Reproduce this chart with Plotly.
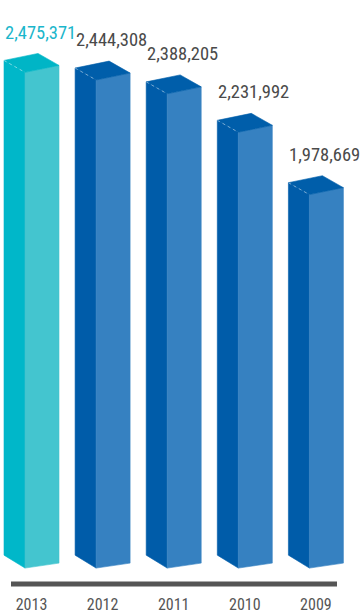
import plotly.graph_objects as go

# ---- data ----
years = ["2013", "2012", "2011", "2010", "2009"]
values = [2475371, 2444308, 2388205, 2231992, 1978669]
highlight = [True, False, False, False, False]

# ---- style ----
W, H = 361, 614
MB = 27                      # bottom margin (axis line position)
PH = H - MB                  # plot height in px
SX = 71.1                    # px per category
X0 = 31.5                    # px of first category centre
SY = 4042.0                  # value units per px
BASE = 465400                # axis value at bar bottom
BASE_PX = 29                 # px of bar bottom above plot bottom

FONT = "Roboto Condensed, Liberation Sans Narrow, DejaVu Sans Condensed, Roboto, sans-serif"

col_left = {True: "#00b7c9", False: "#005ca9"}
col_top = {True: "#00b5c6", False: "#005eaa"}
col_right = {True: "#44c5cf", False: "#3681c1"}
col_label = {True: "#1ab6cb", False: "#4a4a4a"}

xr = [-X0 / SX, (W - X0) / SX]
yr = [BASE - BASE_PX * SY, BASE + (PH - BASE_PX) * SY]

fig = go.Figure()


def poly(xs, ys, color):
    fig.add_trace(go.Scatter(
        x=xs + [xs[0]], y=ys + [ys[0]], mode="lines", fill="toself",
        fillcolor=color, line=dict(color=color, width=0.6),
        hoverinfo="skip", showlegend=False))


annotations = []
for i, (yr_lbl, v, hl) in enumerate(zip(years, values, highlight)):
    L = i - 27.5 / SX
    F = L + 21 / SX
    R = L + 55 / SX
    Bk = L + 34 / SX
    b = BASE
    d = SY
    # left face
    poly([L, L, F, F], [b, v, v - 12 * d, b - 13 * d], col_left[hl])
    # right face
    poly([F, F, R, R], [b - 13 * d, v - 12 * d, v - 5 * d, b - 8 * d], col_right[hl])
    # top face
    poly([L, Bk, R, F], [v, v + 7 * d, v - 5 * d, v - 12 * d], col_top[hl])
    # light dashed edge on top
    fig.add_trace(go.Scatter(
        x=[L, F], y=[v, v - 12 * d], mode="lines",
        line=dict(color="rgba(255,255,255,0.45)", width=1, dash="dot"),
        hoverinfo="skip", showlegend=False))
    annotations.append(dict(
        x=L - 1.5 / SX, y=v + 28 * d, xref="x", yref="y",
        text=f"{v:,}", showarrow=False, xanchor="left", yanchor="middle",
        font=dict(family=FONT, size=18.5, color=col_label[hl])))

fig.update_layout(
    width=W, height=H,
    margin=dict(l=0, r=0, t=0, b=MB),
    paper_bgcolor="white", plot_bgcolor="white",
    xaxis=dict(range=xr, tickmode="array", tickvals=list(range(len(years))),
               ticktext=years, showgrid=False, zeroline=False, showline=False,
               ticks="outside", ticklen=6, tickcolor="rgba(0,0,0,0)",
               tickfont=dict(family=FONT, size=16, color="#555555"),
               fixedrange=True),
    yaxis=dict(range=yr, visible=False, fixedrange=True),
    annotations=annotations,
    shapes=[dict(type="line", xref="paper", yref="paper",
                 x0=11 / W, x1=337 / W, y0=0, y1=0,
                 line=dict(color="#555555", width=5))],
)

fig.write_html("out.html", config={"displayModeBar": False},
               post_script="document.body.style.margin='0';document.body.style.overflow='hidden';")
